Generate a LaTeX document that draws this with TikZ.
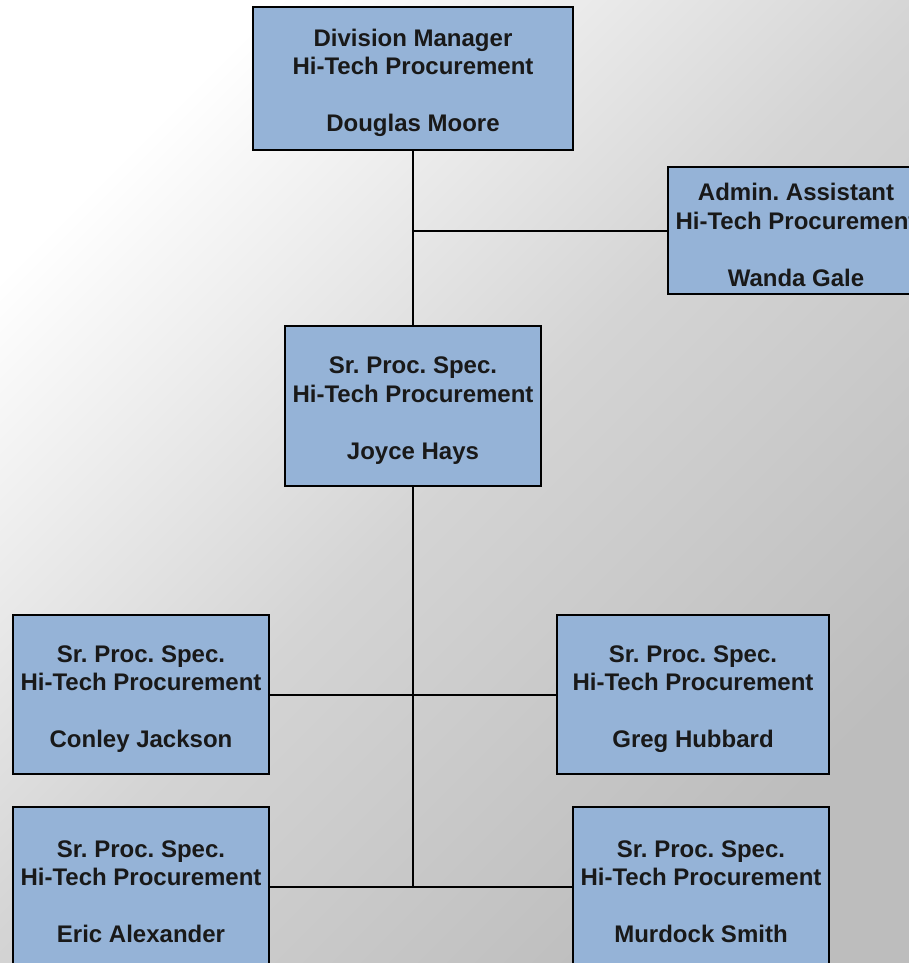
\documentclass[tikz,border=0pt]{standalone}
\usepackage{fontspec}
\setmainfont{Liberation Sans}
\definecolor{boxfill}{HTML}{95B3D7}
\definecolor{bgmid}{HTML}{D4D4D4}
\definecolor{bgdark}{HTML}{BDBDBD}
\pgfdeclareverticalshading{bgshade}{100bp}{color(0bp)=(bgdark); color(25bp)=(bgdark); color(50bp)=(bgmid); color(75bp)=(white); color(100bp)=(white)}
\tikzset{
  orgbox/.style={draw=black, line width=2pt, fill=boxfill, rectangle, inner sep=0pt,
    align=center, font=\fontsize{24pt}{28.5pt}\selectfont\bfseries\frenchspacing, text=black!90},
  link/.style={draw=black, line width=2pt}
}
\newcommand{\boxtext}[3]{\rule{0pt}{26pt}#1\\#2\\[28.5pt]#3}
\begin{document}
\begin{tikzpicture}[x=1pt,y=-1pt]
\useasboundingbox (0,0) rectangle (909,963);
\clip (0,0) rectangle (909,963);
\shade[shading=bgshade, shading angle=45] (0,0) rectangle (909,963);
\node[orgbox, minimum width=320pt, minimum height=143pt] (dm) at (413,78.5) {\boxtext{Division Manager}{Hi-Tech Procurement}{Douglas Moore}};
\node[orgbox, minimum width=256pt, minimum height=127pt] (aa) at (796,230.5) {\boxtext{Admin. Assistant}{Hi-Tech Procurement}{Wanda Gale}};
\node[orgbox, minimum width=256pt, minimum height=160pt] (jh) at (413,406) {\boxtext{Sr. Proc. Spec.}{Hi-Tech Procurement}{Joyce Hays}};
\node[orgbox, minimum width=256pt, minimum height=159pt] (cj) at (141,694.5) {\boxtext{Sr. Proc. Spec.}{Hi-Tech Procurement}{Conley Jackson}};
\node[orgbox, minimum width=272pt, minimum height=159pt] (gh) at (693,694.5) {\boxtext{Sr. Proc. Spec.}{Hi-Tech Procurement}{Greg Hubbard}};
\node[orgbox, minimum width=256pt, minimum height=160pt] (ea) at (141,887) {\boxtext{Sr. Proc. Spec.}{Hi-Tech Procurement}{Eric Alexander}};
\node[orgbox, minimum width=256pt, minimum height=160pt] (ms) at (701,887) {\boxtext{Sr. Proc. Spec.}{Hi-Tech Procurement}{Murdock Smith}};
\coordinate (j1) at (dm.south |- aa.west);
\coordinate (j2) at (jh.south |- ea.east);
\draw[link] (dm.south) -- (jh.north);
\draw[link] (j1) -- (aa.west);
\draw[link] (jh.south) -- (j2);
\draw[link] (cj.east) -- (gh.west);
\draw[link] (ea.east) -- (ms.west);
\end{tikzpicture}
\end{document}
